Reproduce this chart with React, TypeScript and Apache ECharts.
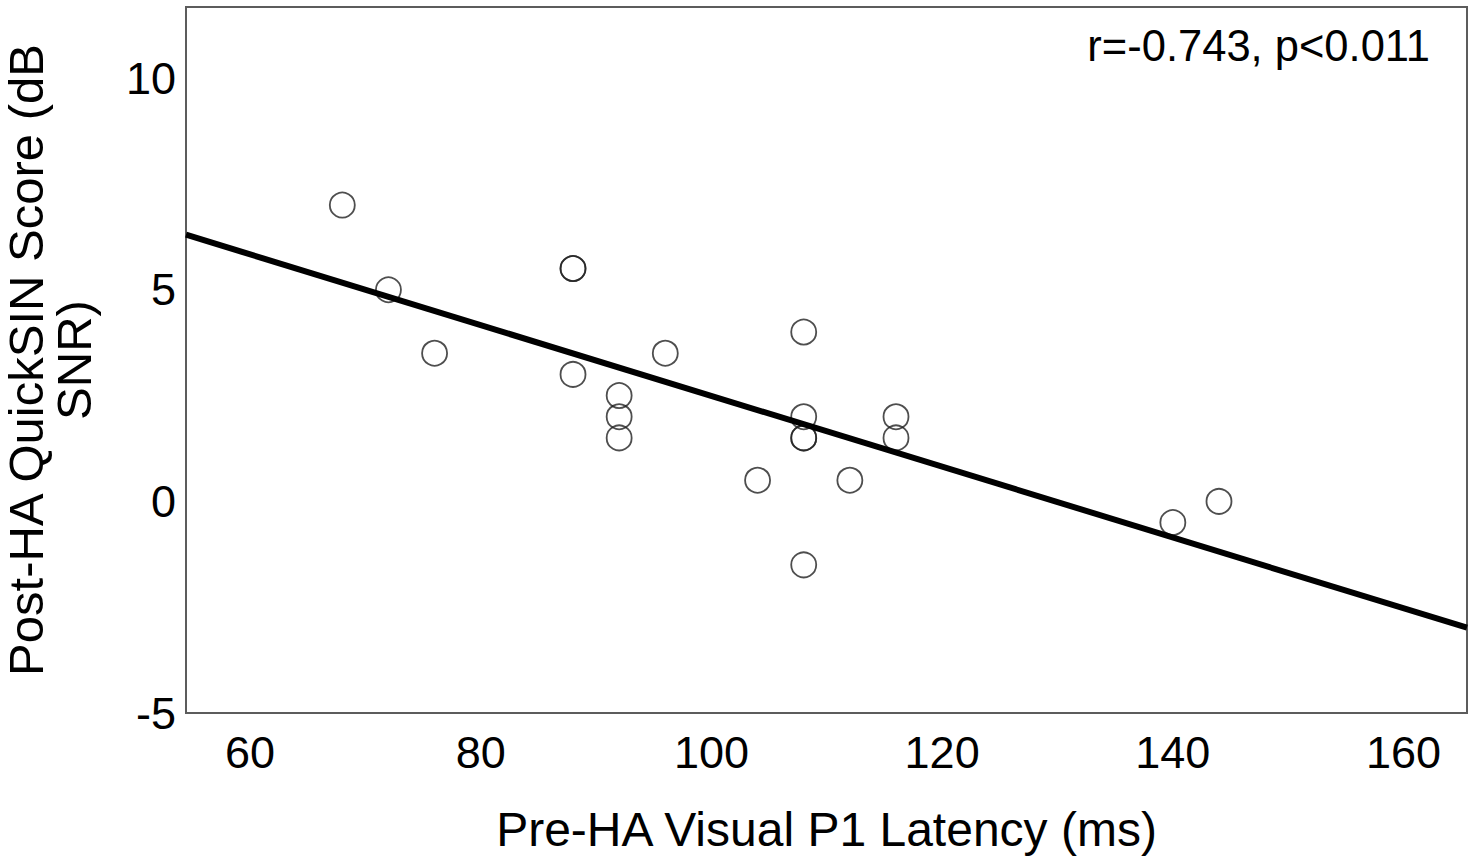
import React, { useEffect, useRef } from "react";
import * as echarts from "echarts";

// Pre-HA Visual P1 latency (ms)
const latency: number[] = [68, 72, 76, 88, 88, 88, 92, 92, 92, 96, 104, 108, 108, 108, 108, 108, 112, 116, 116, 140, 144];
// Post-HA QuickSIN score (dB SNR)
const quickSin: number[] = [7, 5, 3.5, 5.5, 5.5, 3, 2.5, 2, 1.5, 3.5, 0.5, 4, 2, 1.5, 1.5, -1.5, 0.5, 2, 1.5, -0.5, 0];
// Fit line end points
const fitX: number[] = [54.45, 165.5];
const fitY: number[] = [6.3, -2.985];

const xTicks: number[] = [60, 80, 100, 120, 140, 160];
const yTicks: number[] = [-5, 0, 5, 10];
const annotation = "r=-0.743, p<0.011";
const xTitle = "Pre-HA Visual P1 Latency (ms)";
const yTitle = "Post-HA QuickSIN Score (dB\nSNR)";

const FONT = "'Liberation Sans', Arial, Helvetica, sans-serif";

export default function App() {
  const ref = useRef<HTMLDivElement>(null);
  useEffect(() => {
    if (!ref.current) return;
    const chart = echarts.init(ref.current, undefined, { renderer: "svg" });
    const points = latency.map((x, i) => [x, quickSin[i]]);
    const fit = fitX.map((x, i) => [x, fitY[i]]);
    chart.setOption({
      animation: false,
      backgroundColor: "#ffffff",
      textStyle: { fontFamily: FONT },
      grid: {
        left: 186,
        top: 7,
        right: 6,
        bottom: 148,
        show: true,
        containLabel: false,
        outerBoundsMode: "none",
        borderColor: "#5c5c5c",
        borderWidth: 2,
        backgroundColor: "transparent",
      },
      xAxis: {
        type: "value",
        min: 54.45,
        max: 165.5,
        splitNumber: 5,
        name: xTitle,
        nameLocation: "middle",
        nameGap: 92,
        nameTextStyle: { fontSize: 48, color: "#000", fontFamily: FONT },
        axisLine: { show: false },
        axisTick: { show: false },
        splitLine: { show: false },
        axisLabel: {
          fontSize: 45,
          color: "#000",
          fontFamily: FONT,
          margin: 17,
          formatter: (v: number) => (xTicks.includes(Math.round(v * 1000) / 1000) ? String(v) : ""),
        },
      },
      yAxis: {
        type: "value",
        min: -5,
        max: 11.68,
        interval: 5,
        name: yTitle,
        nameLocation: "middle",
        nameGap: 88,
        nameTextStyle: { fontSize: 49, color: "#000", fontFamily: FONT, lineHeight: 48, align: "center" },
        axisLine: { show: false },
        axisTick: { show: false },
        splitLine: { show: false },
        axisLabel: {
          fontSize: 45,
          color: "#000",
          fontFamily: FONT,
          margin: 10,
          padding: [18, 0, 0, 0],
          showMaxLabel: false,
          formatter: (v: number) => (yTicks.includes(Math.round(v * 1000) / 1000) ? String(v) : ""),
        },
      },
      graphic: [
        {
          type: "text",
          right: 43,
          top: 24,
          style: { text: annotation, fontSize: 43.5, fill: "#000", fontFamily: FONT },
          z: 10,
        },
      ],
      series: [
        {
          type: "scatter",
          data: points,
          symbol: "circle",
          symbolSize: 25,
          itemStyle: { color: "rgba(255,255,255,0)", borderColor: "#222", borderWidth: 1.8 },
          z: 2,
        },
        {
          type: "line",
          data: fit,
          showSymbol: false,
          symbol: "none",
          lineStyle: { color: "#000", width: 6 },
          z: 3,
        },
      ],
    });
    return () => chart.dispose();
  }, []);
  return (
    <div
      ref={ref}
      style={{ position: "fixed", left: 0, top: 0, width: 1473, height: 861, background: "#fff" }}
    />
  );
}
